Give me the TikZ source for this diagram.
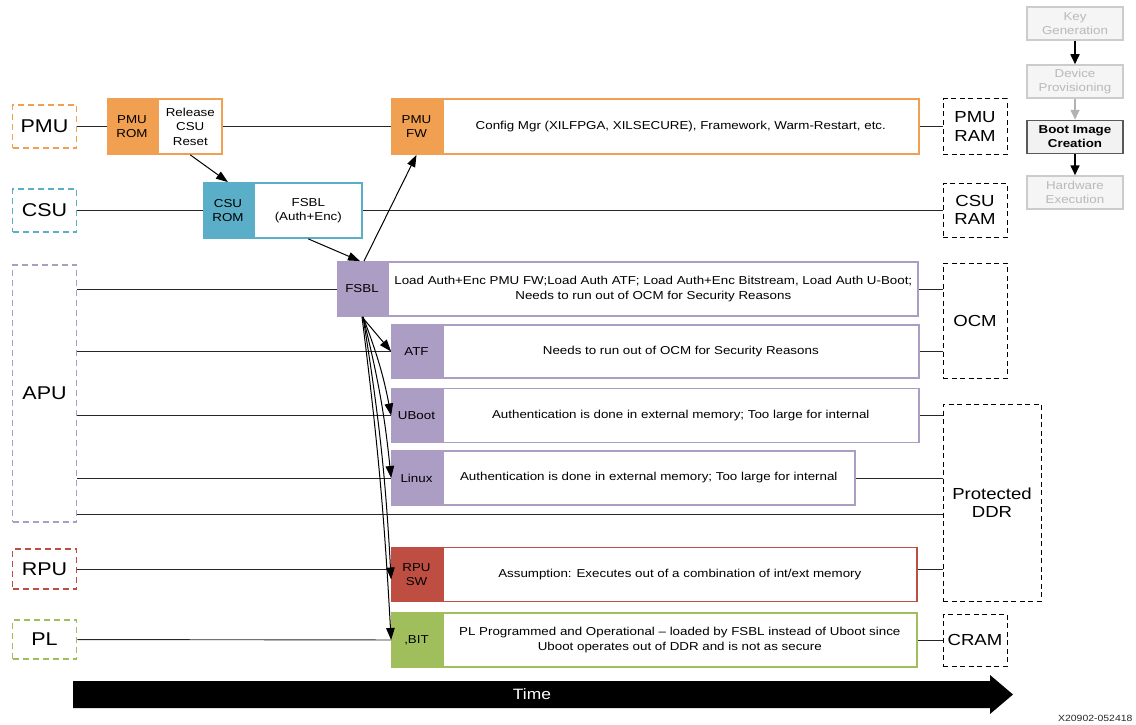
\documentclass[tikz,border=0pt]{standalone}
\usepackage{fontspec}
\setmainfont[FakeStretch=1.16]{Liberation Sans}
\usetikzlibrary{arrows.meta}
\definecolor{pmuorange}{RGB}{240,160,80}
\definecolor{csublue}{RGB}{90,174,200}
\definecolor{apupurple}{RGB}{172,157,197}
\definecolor{rpured}{RGB}{190,78,66}
\definecolor{plgreen}{RGB}{160,190,92}
\tikzset{
	cpu/.style={draw=#1, dash pattern=on 6pt off 4pt, line width=1.8pt, inner sep=0pt, minimum width=64pt, font=\fontsize{18.5}{21}\selectfont},
	mem/.style={draw, dash pattern=on 5pt off 3.5pt, line width=1pt, inner sep=0pt, minimum width=64pt, align=center, font=\fontsize{16}{18.5}\selectfont},
	tag/.style={draw=#1, fill=#1, line width=1.8pt, minimum width=49pt, minimum height=54pt, inner sep=0pt, align=center, font=\fontsize{11.5}{14.5}\selectfont},
	task/.style={draw=#1, fill=white, line width=1.8pt, minimum height=54pt, inner sep=0pt, align=center, font=\fontsize{11.5}{14.5}\selectfont},
	flowbox/.style={draw=gray!40, fill=gray!8, text=gray!55, line width=1.5pt, minimum width=96pt, minimum height=33pt, inner sep=0pt, align=center, font=\fontsize{11.5}{14}\selectfont},
	conn/.style={line width=0.9pt, black!85},
	arr/.style={line width=1pt, -{Triangle[length=12pt, width=8.5pt]}},
	flowarr/.style={line width=1.6pt, -{Triangle[length=10pt, width=9pt]}}
}
\begin{document}
\begin{tikzpicture}[x=1pt, y=-1pt]
	\useasboundingbox (0,0) rectangle (1136,725);
	\node[cpu=pmuorange, minimum height=43pt] (pmu) at (44.5,126.5) {PMU};
	\node[cpu=csublue, minimum height=43pt] (csu) at (44.5,210.5) {CSU};
	\node[cpu=apupurple, minimum height=257pt] (apu) at (44.5,393.5) {APU};
	\node[cpu=rpured, minimum height=40pt] (rpu) at (44.5,569) {RPU};
	\node[cpu=plgreen, minimum height=39pt] (pl) at (44.5,639.5) {PL};

	\node[mem, minimum height=55pt] (pmuram) at (975,126.5) {PMU\\RAM};
	\node[mem, minimum height=54pt] (csuram) at (975,210) {CSU\\RAM};
	\node[mem, minimum height=115pt] (ocm) at (975,320.5) {OCM};
	\node[mem, minimum width=98pt, minimum height=197pt] (ddr) at (992,502.5) {Protected\\DDR};
	\node[mem, minimum height=52pt] (cram) at (975,640) {CRAM};

	\node[tag=pmuorange, minimum height=55pt] (pmurom) at (132,126.5) {PMU\\ROM};
	\node[task=pmuorange, minimum height=55pt, minimum width=64pt, anchor=west] (relcsu) at (pmurom.east) {Release\\CSU\\Reset};
	\node[tag=pmuorange, minimum height=55pt] (pmufw) at (416.5,126.5) {PMU\\FW};
	\node[task=pmuorange, minimum height=55pt, minimum width=476pt, anchor=west] (pmufwd) at (pmufw.east) {Config Mgr (XILFPGA, XILSECURE), Framework, Warm-Restart, etc.};
	\node[tag=csublue, minimum height=55pt] (csurom) at (228,210.5) {CSU\\ROM};
	\node[task=csublue, minimum height=55pt, minimum width=108pt, anchor=west] (csufsbl) at (csurom.east) {FSBL\\(Auth+Enc)};
	\node[tag=apupurple] (fsbl) at (362,289) {FSBL};
	\node[task=apupurple, minimum width=530pt, anchor=west] (fsbld) at (fsbl.east) {Load Auth+Enc PMU FW;Load Auth ATF; Load Auth+Enc Bitstream, Load Auth U-Boot;\\Needs to run out of OCM for Security Reasons};
	\node[tag=apupurple, minimum height=53pt] (atf) at (416.5,351.5) {ATF};
	\node[task=apupurple, minimum height=53pt, minimum width=476pt, anchor=west] (atfd) at (atf.east) {Needs to run out of OCM for Security Reasons};
	\node[tag=apupurple] (uboot) at (416.5,415.5) {UBoot};
	\node[task=apupurple, minimum width=476pt, anchor=west] (ubootd) at (uboot.east) {Authentication is done in external memory; Too large for internal};
	\node[tag=apupurple] (linux) at (416.5,478) {Linux};
	\node[task=apupurple, minimum width=412pt, anchor=west] (linuxd) at (linux.east) {Authentication is done in external memory; Too large for internal};
	\node[tag=rpured] (rpusw) at (416.5,574.5) {RPU\\SW};
	\node[task=rpured, minimum width=474pt, anchor=west] (rpuswd) at (rpusw.east) {Assumption: Executes out of a combination of int/ext memory};
	\node[tag=plgreen] (bit) at (416.5,640) {,BIT};
	\node[task=plgreen, minimum width=474pt, anchor=west] (bitd) at (bit.east) {PL Programmed and Operational – loaded by FSBL instead of Uboot since\\Uboot operates out of DDR and is not as secure};

	\coordinate (apuddr) at (apu.east |- 0,514);
	\draw[conn] (pmu) -- (pmurom);
	\draw[conn] (relcsu) -- (pmufw);
	\draw[conn] (pmufwd) -- (pmuram);
	\draw[conn] (csu) -- (csurom);
	\draw[conn] (csufsbl.east) -- (csufsbl.east -| csuram.west);
	\draw[conn] (apu.east |- fsbl) -- (fsbl);
	\draw[conn] (apu.east |- atf) -- (atf);
	\draw[conn] (apu.east |- uboot) -- (uboot);
	\draw[conn] (apu.east |- linux) -- (linux);
	\draw[conn] (apuddr) -- (apuddr -| ddr.west);
	\draw[conn] (fsbld.east) -- (fsbld.east -| ocm.west);
	\draw[conn] (atfd.east) -- (atfd.east -| ocm.west);
	\draw[conn] (ubootd.east) -- (ubootd.east -| ddr.west);
	\draw[conn] (linuxd.east) -- (linuxd.east -| ddr.west);
	\draw[conn] (rpu) -- (rpu -| rpusw.west);
	\draw[conn] (rpu -| rpuswd.east) -- (rpu -| ddr.west);
	\draw[conn] (pl) -- (bit);
	\draw[conn] (bitd) -- (cram);

	\draw[arr] (relcsu.south) -- (csurom.north);
	\draw[arr] (csufsbl.south) -- ([xshift=-2pt]fsbl.north);
	\draw[arr] ([xshift=2pt]fsbl.north) -- (pmufw.south);
	\draw[arr] (fsbl.south) -- (atf.west);
	\draw[arr] ([xshift=1pt]fsbl.south) to[bend left=5] (uboot.west);
	\draw[arr] ([xshift=1pt]fsbl.south) to[bend left=4] (linux.west);
	\draw[arr] ([xshift=1pt]fsbl.south) to[bend left=3] ([yshift=-5pt]rpusw.west);
	\draw[arr] (fsbl.south) to[bend left=2] (bit.west);

	\node[flowbox] (keygen) at (1075,23.5) {Key\\Generation};
	\node[flowbox] (devprov) at (1075,81.5) {Device\\Provisioning};
	\node[flowbox, draw=black!65, fill=gray!10, text=black, font=\fontsize{11.5}{14}\selectfont\bfseries] (bootimg) at (1075,137) {Boot Image\\Creation};
	\node[flowbox] (hwexec) at (1075,192.5) {Hardware\\Execution};
	\draw[flowarr] (keygen) -- (devprov);
	\draw[flowarr, gray!60] (devprov) -- (bootimg);
	\draw[flowarr] (bootimg) -- (hwexec);

	\fill (73,681) -- (990,681) -- (990,675) -- (1013,694.5) -- (990,714) -- (990,708) -- (73,708) -- cycle;
	\node[text=white, font=\fontsize{15}{17}\selectfont] (time) at (532,694.5) {Time};
	\node[anchor=east, text=black!85, font=\fontsize{9}{10}\selectfont] (xnum) at (1136,718) {X20902-052418};
\end{tikzpicture}
\end{document}
